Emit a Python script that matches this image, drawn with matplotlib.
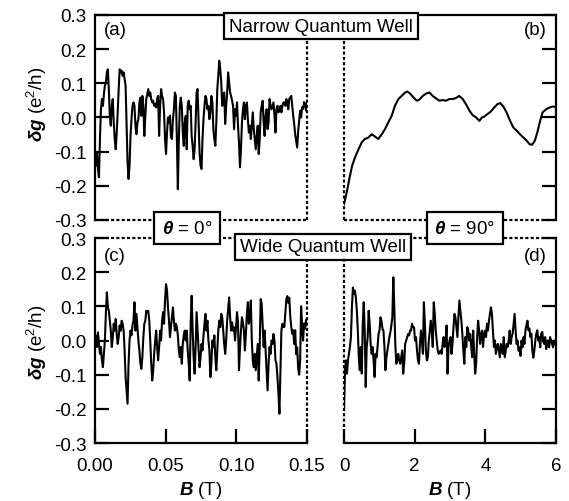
import numpy as np
import matplotlib
matplotlib.use('Agg')
import matplotlib.pyplot as plt
from matplotlib.ticker import FormatStrFormatter

plt.rcParams['font.family'] = ['Liberation Sans', 'DejaVu Sans']
plt.rcParams['axes.unicode_minus'] = False
plt.rcParams['mathtext.fontset'] = 'custom'
plt.rcParams['mathtext.rm'] = 'Liberation Sans'
plt.rcParams['mathtext.it'] = 'Liberation Sans:italic'
plt.rcParams['mathtext.bf'] = 'Liberation Sans:bold:italic'

# (a) narrow well, theta = 0, field swept 0 -> 0.15 T at even steps
dg_narrow_0 = [
    -0.112, -0.141, -0.102, -0.151, -0.175, -0.063, 0.024, 0.054, 0.034, 0.068,
    0.093, 0.102, 0.132, 0.141, 0.083, 0.005, -0.024, 0.034, 0.054, -0.015,
    -0.063, -0.093, -0.044, 0.015, 0.083, 0.141, 0.132, 0.137, 0.122, 0.132,
    0.112, 0.093, -0.015, -0.132, -0.180, -0.141, -0.054, -0.005, 0.034, 0.044,
    0.034, -0.024, -0.049, -0.015, -0.005, 0.044, 0.058, 0.005, 0.063, 0.034,
    -0.054, 0.005, 0.054, 0.068, 0.083, 0.063, 0.073, 0.054, 0.044, 0.049,
    0.034, 0.039, 0.029, 0.054, 0.063, -0.054, 0.034, 0.083, 0.063, 0.054,
    0.015, -0.063, -0.107, -0.044, 0.000, -0.015, 0.005, -0.058, -0.063, -0.005,
    0.024, 0.073, 0.063, -0.063, -0.210, -0.063, 0.034, 0.058, 0.034, -0.044,
    -0.083, -0.015,
    0.005, -0.093, 0.034, 0.049, 0.024, 0.034, -0.054, -0.083, -0.122, -0.093,
    -0.015, 0.073, 0.083, -0.015, -0.102, -0.141, -0.151, -0.063, -0.005, 0.034,
    0.063, 0.054, 0.024, 0.034, -0.005, 0.015, 0.063, 0.044, -0.034, -0.063,
    -0.083, -0.015, 0.083, 0.122, 0.166, 0.141, 0.102, 0.034, 0.063, 0.073,
    -0.019, 0.034, 0.073, 0.132, 0.102, 0.073, 0.063, 0.049, 0.034, -0.034,
    0.024, 0.005, 0.044, -0.024, -0.073, -0.146, -0.093, -0.015, 0.024, 0.044,
    -0.005, 0.034, 0.044, -0.005, -0.044, -0.024, -0.063, -0.024, 0.015, -0.034,
    -0.063, -0.093, -0.054, -0.024, -0.107, -0.063, 0.015, 0.034, 0.049, -0.015,
    -0.054, 0.005, 0.024, -0.034, -0.015, 0.054, 0.034, 0.024, 0.034, 0.044,
    0.005, -0.044, 0.024, 0.034, 0.015, 0.019, 0.034, 0.015, 0.034, 0.044,
    0.044, 0.034, 0.054, 0.044, 0.024, 0.054, 0.058, 0.063, 0.034, 0.005,
    -0.020, -0.050, -0.070, -0.088, -0.040, -0.010, 0.020, 0.000, 0.030, 0.025,
    0.045, 0.040, 0.020, 0.045,
]

# (b) narrow well, theta = 90, smooth trace read at these fields
b_narrow_90 = [
    0.0, 0.075, 0.15, 0.23, 0.31, 0.41, 0.5, 0.59, 0.69, 0.78,
    0.88, 0.97, 1.07, 1.16, 1.25, 1.35, 1.44, 1.54, 1.63, 1.73,
    1.79, 1.87, 1.96, 2.06, 2.13, 2.23, 2.32, 2.42, 2.51, 2.60,
    2.70, 2.79, 2.89, 2.98, 3.08, 3.17, 3.26, 3.36, 3.45, 3.55,
    3.64, 3.74, 3.83, 3.90, 3.96, 4.06, 4.15, 4.25, 4.34, 4.42,
    4.51, 4.60, 4.70, 4.79, 4.89, 4.98, 5.08, 5.17, 5.25, 5.32,
    5.40, 5.47, 5.55, 5.62, 5.72, 5.81, 5.91, 6.0,
]
dg_narrow_90 = [
    -0.254, -0.220, -0.180, -0.141, -0.117, -0.093, -0.073, -0.063, -0.059, -0.049,
    -0.056, -0.063, -0.049, -0.034, -0.015, 0.005, 0.034, 0.054, 0.063, 0.073,
    0.076, 0.070, 0.059, 0.049, 0.052, 0.063, 0.070, 0.073, 0.063, 0.056,
    0.049, 0.051, 0.049, 0.054, 0.054, 0.057, 0.063, 0.054, 0.039, 0.020,
    0.007, 0.000, -0.010, 0.000, 0.002, 0.010, 0.017, 0.029, 0.039, 0.042,
    0.032, 0.015, -0.010, -0.029, -0.039, -0.049, -0.059, -0.068, -0.078, -0.080,
    -0.068, -0.044, -0.010, 0.015, 0.024, 0.029, 0.032, 0.031,
]

# (c) wide well, theta = 0
dg_wide_0 = [
    0.019, 0.010, -0.019, 0.024, -0.010, -0.039, -0.019, -0.058, -0.078, -0.039,
    0.000, 0.078, 0.141, 0.097, 0.087, 0.058, 0.029, -0.019, 0.010, 0.049,
    0.029, 0.063, 0.019, -0.010, 0.010, 0.044, 0.029, 0.058, 0.049, 0.029,
    -0.029, -0.107, -0.146, -0.185, -0.068, 0.000, 0.029, 0.015, 0.044, 0.058,
    0.112, 0.029, 0.078, 0.039, 0.000, -0.029, -0.068, -0.083, -0.049, 0.010,
    0.049, 0.058, 0.087, 0.083, 0.087, 0.058, 0.000, -0.068, -0.117, -0.087,
    -0.039, 0.000, 0.029, -0.019, -0.058, -0.019, 0.029, 0.000, 0.058, 0.083,
    0.049, 0.117, 0.165, 0.146, 0.097, 0.058, 0.010, 0.039, 0.068, 0.097,
    0.058, 0.029, 0.049, 0.039, 0.015, -0.029, -0.049, -0.019, -0.068, -0.010,
    0.015, 0.029,
    0.000, 0.029, -0.029, -0.068, -0.117, 0.049, 0.131, 0.029, -0.049, -0.097,
    -0.019, 0.083, 0.029, -0.029, -0.078, -0.049, -0.010, -0.029, 0.015, 0.049,
    0.078, 0.029, 0.058, 0.000, -0.029, -0.107, -0.068, 0.000, -0.019, 0.015,
    -0.049, -0.087, -0.029, 0.029, 0.058, 0.039, 0.078, 0.068, 0.029, -0.010,
    -0.039, 0.000, 0.058, 0.092, 0.126, 0.068, 0.029, 0.053, 0.029, 0.039,
    0.000, 0.039, 0.083, 0.053, -0.087, -0.019, 0.029, 0.068, 0.053, 0.029,
    -0.029, 0.019, 0.078, 0.112, 0.049, 0.068, 0.117, 0.000, -0.058, -0.078,
    -0.039, -0.087, -0.049, -0.010, -0.117, -0.019, 0.121, 0.107, 0.044, -0.019,
    0.029, -0.029, -0.087, -0.146, -0.068, -0.019, -0.039, 0.000, -0.010, 0.019,
    0.000, -0.058, -0.068, -0.107, -0.155, -0.214, -0.087, 0.029, 0.049, 0.039,
    0.040, 0.080, 0.120, 0.130, 0.110, 0.125, 0.070, 0.040, 0.020, 0.030,
    -0.010, 0.030, -0.040, -0.020, -0.080, -0.100, -0.060, 0.100, 0.040, 0.000,
    0.050, 0.035, 0.060, 0.045,
]

# (d) wide well, theta = 90, field swept 0 -> 6 T at even steps
dg_wide_90 = [
    -0.204, -0.087, -0.058, -0.097, -0.058, -0.039, -0.019, 0.010, 0.097, 0.155,
    0.136, 0.146, 0.126, 0.087, 0.029, -0.049, -0.087, -0.019, -0.097, 0.049,
    0.112, 0.029, -0.136, -0.019, 0.010, 0.087, 0.049, -0.010, -0.039, -0.019,
    -0.058, -0.107, -0.039, -0.049, -0.019, 0.019, 0.029, 0.068, 0.058, 0.034,
    0.029, -0.019, -0.087, -0.049, -0.029, -0.010, 0.010, 0.024, 0.044, 0.068,
    0.185, 0.097, -0.010, -0.068, -0.058, -0.039, -0.058, -0.068, -0.049, -0.029,
    -0.097, -0.068, -0.010, 0.000, 0.010, 0.019, 0.015, 0.029, 0.029, 0.049,
    0.039,
    0.039, 0.000, 0.010, -0.029, -0.058, -0.068, -0.010, 0.029, 0.000, -0.039,
    0.112, 0.049, -0.029, -0.058, -0.049, 0.000, 0.029, 0.058, 0.029, -0.019,
    0.112, 0.078, 0.029, 0.000, -0.029, -0.039, -0.034, -0.029, -0.039, -0.010,
    0.010, -0.019, -0.010, 0.044, -0.097, -0.019, 0.000, 0.010, -0.039, -0.010,
    0.039, 0.078, 0.068, 0.039, 0.010, 0.068, 0.117, 0.087, 0.058, 0.019,
    -0.029, -0.068, 0.010, -0.019, 0.039, 0.029, 0.000, 0.019, -0.019, -0.049,
    0.029, -0.039, -0.097, -0.068, 0.010, 0.058, 0.029, -0.010, 0.019, 0.029,
    -0.019, 0.019, 0.029, 0.010, 0.049, 0.029, 0.058, 0.078, 0.097, 0.078,
    0.029, -0.019, 0.000, -0.039, -0.019, -0.010, -0.029, -0.049, -0.010, -0.019,
    -0.039, 0.010, -0.049, -0.029, -0.010, -0.019, 0.000, 0.029, -0.010, 0.010,
    0.020, 0.050, 0.078, 0.030, -0.010, 0.000, -0.030, -0.020, -0.045, 0.000,
    -0.020, 0.010, -0.010, 0.030, 0.045, 0.058, 0.030, 0.035, 0.010, 0.020,
    -0.030, -0.050, -0.030, 0.000, 0.020, 0.030, 0.000, 0.010, -0.020, 0.020,
    0.025, 0.000, -0.010, 0.010, -0.025, -0.010, 0.000, -0.020, 0.010, 0.000,
    -0.010, -0.020, 0.000, -0.010, -0.005,
]

b_0a = np.linspace(0, 0.15, len(dg_narrow_0))
b_0c = np.linspace(0, 0.15, len(dg_wide_0))
b_90d = np.linspace(0, 6, len(dg_wide_90))

FS = 13.5
DOT = (0, (1.4, 1.0))

fig = plt.figure(figsize=(5.69, 5.02), dpi=100)
W, H = 0.3726, 0.4084
ax_a = fig.add_axes([0.1670, 0.5598, W, H])
ax_b = fig.add_axes([0.6046, 0.5598, W, H])
ax_c = fig.add_axes([0.1670, 0.1155, W, H])
ax_d = fig.add_axes([0.6046, 0.1155, W, H])

ax_a.plot(b_0a, dg_narrow_0, color='black', lw=1.5)
ax_b.plot(b_narrow_90, dg_narrow_90, color='black', lw=1.5)
ax_c.plot(b_0c, dg_wide_0, color='black', lw=1.5)
ax_d.plot(b_90d, dg_wide_90, color='black', lw=1.5)

yt = [-0.3, -0.2, -0.1, 0.0, 0.1, 0.2, 0.3]
for ax in (ax_a, ax_b, ax_c, ax_d):
    ax.set_ylim(-0.3, 0.3)
    ax.set_yticks(yt)
    ax.yaxis.set_major_formatter(FormatStrFormatter('%.1f'))
    for s in ax.spines.values():
        s.set_linewidth(1.6)
    ax.tick_params(direction='in', length=10, width=1.6, labelsize=FS, pad=6)

for ax in (ax_a, ax_c):
    ax.set_xlim(0, 0.15)
for ax in (ax_b, ax_d):
    ax.set_xlim(0, 6)


def dotted(spine):
    spine.set_linestyle(DOT)
    spine.set_capstyle('butt')


# left column: ticks on the left, dotted right edge
for ax in (ax_a, ax_c):
    ax.tick_params(axis='y', left=True, right=False, labelleft=True)
    dotted(ax.spines['right'])
# right column: ticks on the right, no labels, dotted left edge
for ax in (ax_b, ax_d):
    ax.yaxis.tick_right()
    ax.tick_params(axis='y', labelright=False, labelleft=False)
    dotted(ax.spines['left'])
# top row: dotted bottom, no x ticks
for ax in (ax_a, ax_b):
    dotted(ax.spines['bottom'])
    ax.tick_params(axis='x', bottom=False, top=False, labelbottom=False)
# bottom row: dotted top
for ax in (ax_c, ax_d):
    dotted(ax.spines['top'])
    ax.tick_params(axis='x', bottom=True, top=False, pad=10)

ax_c.set_xticks([0, 0.05, 0.10, 0.15])
ax_c.xaxis.set_major_formatter(FormatStrFormatter('%.2f'))
ax_d.set_xticks([0, 2, 4, 6])
ax_d.xaxis.set_major_formatter(FormatStrFormatter('%d'))

for ax in (ax_c, ax_d):
    ax.set_xlabel(r'$\mathbf{B}$ (T)', fontsize=FS, labelpad=4)

ylab = r'$\mathbf{\delta g}$ (e$^{\mathrm{2}}$/h)'
fig.text(37 / 569, 1 - 104 / 502, ylab, rotation=90, ha='center', va='center', fontsize=FS)
fig.text(37 / 569, 1 - 342 / 502, ylab, rotation=90, ha='center', va='center', fontsize=FS)

ax_a.text(0.094, 0.93, '(a)', transform=ax_a.transAxes, ha='center', va='center', fontsize=FS)
ax_b.text(0.90, 0.93, '(b)', transform=ax_b.transAxes, ha='center', va='center', fontsize=FS)
ax_c.text(0.094, 0.917, '(c)', transform=ax_c.transAxes, ha='center', va='center', fontsize=FS)
ax_d.text(0.90, 0.917, '(d)', transform=ax_d.transAxes, ha='center', va='center', fontsize=FS)

box = dict(boxstyle='square,pad=0.25', fc='white', ec='black', lw=1.6)
tbox = dict(boxstyle='square,pad=0.4', fc='white', ec='black', lw=1.6)
fig.text(321 / 569, 1 - 27 / 502, 'Narrow Quantum Well', ha='center', va='center',
         fontsize=FS, bbox=box, zorder=10)
fig.text(323 / 569, 1 - 248 / 502, 'Wide Quantum Well', ha='center', va='center',
         fontsize=FS, bbox=box, zorder=10)
fig.text(187 / 569, 1 - 229 / 502, r'$\mathbf{\theta}$ = 0°', ha='center', va='center',
         fontsize=FS, bbox=tbox, zorder=10)
fig.text(465 / 569, 1 - 229 / 502, r'$\mathbf{\theta}$ = 90°', ha='center', va='center',
         fontsize=FS, bbox=tbox, zorder=10)

fig.savefig('out.png', dpi=100)
